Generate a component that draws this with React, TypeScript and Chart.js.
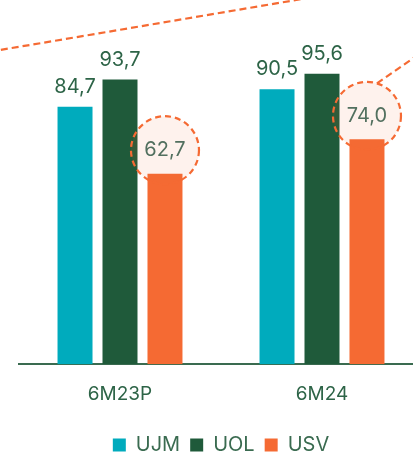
import React, { useEffect, useRef } from "react";
import { Chart, registerables } from "chart.js";

Chart.register(...registerables);

const categories = ["6M23P", "6M24"];
const seriesNames = ["UJM", "UOL", "USV"];
const ujmValues = [84.7, 90.5];
const uolValues = [93.7, 95.6];
const usvValues = [62.7, 74.0];
const seriesColors = ["#00abbd", "#1f5a3a", "#f56a33"];

const TEXT_GREEN = "#2d6447";
const FONT = "Inter, 'Noto Sans', sans-serif";

function fmt(v: number) {
  return v.toFixed(1).replace(".", ",");
}

const decorPlugin = {
  id: "decor",
  afterDatasetDraw(chart: any, args: any) {
    if (args.index !== 1) return;
    const ctx = chart.ctx;
    const meta = chart.getDatasetMeta(2);
    ctx.save();
    meta.data.forEach((bar: any, i: number) => {
      const cx = bar.x;
      const cy = bar.y - 23.5;
      const r = 34;
      ctx.beginPath();
      ctx.arc(cx, cy, r, 0, Math.PI * 2);
      ctx.fillStyle = "rgba(245,106,51,0.09)";
      ctx.fill();
      ctx.setLineDash([6, 4]);
      ctx.lineWidth = 2.2;
      ctx.strokeStyle = "#f56a33";
      ctx.stroke();
      if (i === 1) {
        const a = -73 * Math.PI / 180;
        const sx = cx + r * Math.cos(a);
        const sy = cy + r * Math.sin(a);
        const dx = 36, dy = -25;
        const len = Math.hypot(dx, dy);
        ctx.beginPath();
        ctx.setLineDash([7, 4]);
        ctx.moveTo(sx, sy);
        ctx.lineTo(sx + (dx / len) * 120, sy + (dy / len) * 120);
        ctx.stroke();
      }
    });
    ctx.beginPath();
    ctx.setLineDash([7, 4]);
    ctx.lineWidth = 2.2;
    ctx.strokeStyle = "#f56a33";
    ctx.moveTo(-10, 51.7);
    ctx.lineTo(320, -4);
    ctx.stroke();
    ctx.restore();
  },
  afterDatasetsDraw(chart: any) {
    const ctx = chart.ctx;
    ctx.save();
    ctx.textAlign = "center";
    ctx.textBaseline = "middle";
    ctx.font = `20px ${FONT}`;
    chart.data.datasets.forEach((ds: any, di: number) => {
      const meta = chart.getDatasetMeta(di);
      meta.data.forEach((bar: any, i: number) => {
        const v = ds.data[i];
        if (di < 2) {
          ctx.fillStyle = TEXT_GREEN;
          ctx.fillText(fmt(v), bar.x, bar.y - 20);
        } else {
          ctx.fillStyle = "#52705f";
          ctx.fillText(fmt(v), bar.x, bar.y - 23.5);
        }
      });
    });
    ctx.restore();
  },
};

export default function App() {
  const ref = useRef<HTMLCanvasElement>(null);
  useEffect(() => {
    if (!ref.current) return;
    const valueSets = [ujmValues, uolValues, usvValues];
    const chart = new Chart(ref.current, {
      type: "bar",
      data: {
        labels: categories,
        datasets: seriesNames.map((name, i) => ({
          label: name,
          data: valueSets[i],
          backgroundColor: seriesColors[i],
          borderWidth: 0,
          categoryPercentage: 0.668,
          barPercentage: 0.778,
        })),
      },
      options: {
        animation: false,
        responsive: false,
        maintainAspectRatio: false,
        layout: { padding: { left: 19, right: 27, top: 30, bottom: -11 } },
        scales: {
          x: {
            grid: { display: false, drawTicks: false },
            border: { display: true, color: "#3a6b50", width: 2 },
            ticks: { color: TEXT_GREEN, font: { family: FONT, size: 19 }, padding: 19 },
          },
          y: { display: false, min: 0, max: 110 },
        },
        plugins: {
          legend: {
            position: "bottom",
            labels: {
              boxWidth: 13,
              boxHeight: 13,
              color: "#3a6b50",
              font: { family: FONT, size: 20 },
              padding: 10,
            },
          },
          tooltip: { enabled: false },
        },
      },
      plugins: [decorPlugin],
    });
    return () => chart.destroy();
  }, []);
  return (
    <div style={{ position: "fixed", left: 0, top: 0, width: 413, height: 454, overflow: "hidden", background: "#fff" }}>
      <canvas ref={ref} width={450} height={454} style={{ display: "block" }} />
    </div>
  );
}
